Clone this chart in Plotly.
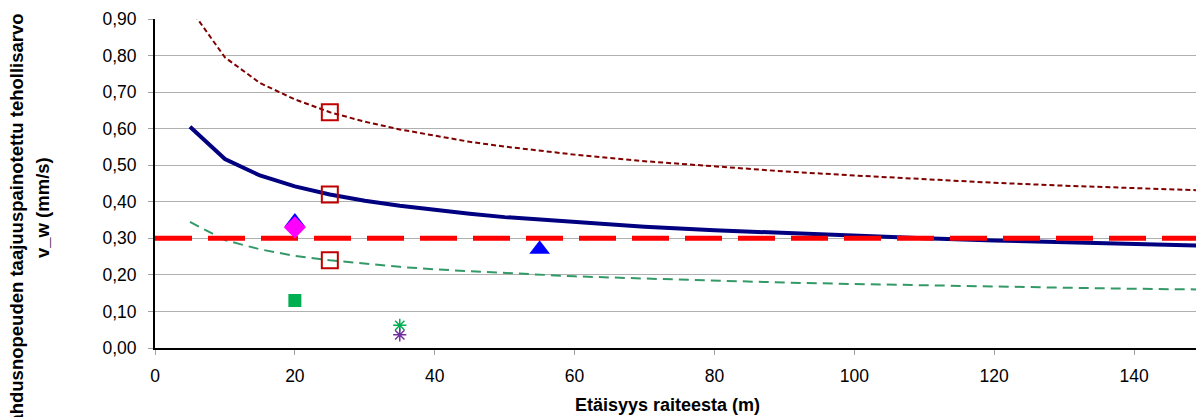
import plotly.graph_objects as go

# distances (m) for model curves
dist = [5, 10, 15, 20, 25, 30, 35, 40, 45, 50, 60, 70, 80, 90, 100, 110, 120, 130, 140, 150]
# model: mean (blue), upper (dark red dotted), lower (green dashed)
v_mean = [0.605, 0.517, 0.472, 0.442, 0.420, 0.403, 0.389, 0.377, 0.367, 0.358,
          0.344, 0.332, 0.322, 0.314, 0.307, 0.300, 0.294, 0.289, 0.284, 0.280]
v_upper = [0.929, 0.795, 0.725, 0.680, 0.645, 0.619, 0.598, 0.580, 0.564, 0.551,
           0.529, 0.511, 0.496, 0.483, 0.472, 0.461, 0.452, 0.444, 0.437, 0.431]
v_lower = [0.345, 0.295, 0.270, 0.252, 0.240, 0.230, 0.222, 0.215, 0.210, 0.204,
           0.196, 0.190, 0.184, 0.179, 0.175, 0.171, 0.168, 0.165, 0.162, 0.160]

# limit value
limit_x = [0, 150]
limit_y = [0.30, 0.30]

# measurements
sq_x = [25, 25, 25]
sq_y = [0.645, 0.420, 0.240]
tri_x = [20, 55]
tri_y = [0.345, 0.270]
dia_x = [20]
dia_y = [0.330]
gsq_x = [20]
gsq_y = [0.130]
gstar_x = [35]
gstar_y = [0.062]
pstar_x = [35]
pstar_y = [0.036]

x_ticks = [0, 20, 40, 60, 80, 100, 120, 140]
y_ticks = [0.0, 0.1, 0.2, 0.3, 0.4, 0.5, 0.6, 0.7, 0.8, 0.9]

FONT = "Liberation Sans, Arial, sans-serif"

# page body has an 8px margin: figure is drawn from (8, 8) on screen
OFF = 8
W, H = 1204 - OFF, 417 - OFF
PL, PT, PB_SCREEN = 155, 19, 348
L = PL - OFF
T = PT - OFF
B = H - (PB_SCREEN - OFF)
PW = W - L
PH = (PB_SCREEN - OFF) - T

fig = go.Figure()

fig.add_trace(go.Scatter(x=dist, y=v_lower, mode="lines",
                         line=dict(color="#339966", width=2, dash="10px,6px")))
fig.add_trace(go.Scatter(x=dist, y=v_upper, mode="lines",
                         line=dict(color="#800000", width=2, dash="5px,3px")))
fig.add_trace(go.Scatter(x=dist, y=v_mean, mode="lines",
                         line=dict(color="#000080", width=4)))
fig.add_trace(go.Scatter(x=limit_x, y=limit_y, mode="lines",
                         line=dict(color="#FF0000", width=5, dash="37px,16px")))

fig.add_trace(go.Scatter(x=sq_x, y=sq_y, mode="markers",
                         marker=dict(symbol="square-open", size=16, color="#C00000",
                                     line=dict(width=2, color="#C00000"))))
fig.add_trace(go.Scatter(x=tri_x, y=tri_y, mode="markers",
                         marker=dict(symbol="triangle-up", size=18, color="#0000FF",
                                     line=dict(width=0))))
fig.add_trace(go.Scatter(x=dia_x, y=dia_y, mode="markers",
                         marker=dict(symbol="diamond", size=17, color="#FF00FF",
                                     line=dict(width=0))))
fig.add_trace(go.Scatter(x=gsq_x, y=gsq_y, mode="markers",
                         marker=dict(symbol="square", size=13, color="#00B050",
                                     line=dict(width=0))))
fig.add_trace(go.Scatter(x=gstar_x, y=gstar_y, mode="markers",
                         marker=dict(symbol="asterisk-open", size=11, color="#00B050",
                                     line=dict(width=1.5, color="#00B050"))))
fig.add_trace(go.Scatter(x=pstar_x, y=pstar_y, mode="markers",
                         marker=dict(symbol="asterisk-open", size=11, color="#7030A0",
                                     line=dict(width=1.5, color="#7030A0"))))

fig.update_layout(
    width=W, height=H,
    margin=dict(l=L, r=0, t=T, b=B, pad=0),
    paper_bgcolor="white", plot_bgcolor="white",
    showlegend=False,
    separators=", ",
    font=dict(family=FONT, size=17.5, color="black"),
)
fig.update_xaxes(
    range=[0, 150], tickvals=x_ticks, ticktext=[str(v) for v in x_ticks],
    showgrid=False, zeroline=False,
    showline=True, linecolor="black", linewidth=2,
    ticks="outside", ticklen=5, tickcolor="#A0A0A0", ticklabelstandoff=6,
)
fig.update_yaxes(
    range=[0, 0.9], tickvals=y_ticks, tickformat=".2f",
    showgrid=True, gridcolor="#B0B0B0", gridwidth=1, zeroline=False,
    showline=True, linecolor="black", linewidth=2,
    ticks="outside", ticklen=5, tickcolor="#A0A0A0", ticklabelstandoff=8,
)


def px_x(sx):
    return (sx - PL) / PW


def px_y(sy):
    return (PB_SCREEN - sy) / PH


fig.add_annotation(text="<b>Etäisyys raiteesta (m)</b>", xref="paper", yref="paper",
                   x=px_x(667), y=px_y(416), xanchor="center", yanchor="bottom",
                   borderpad=0, showarrow=False, font=dict(family=FONT, size=18))
fig.add_annotation(text="<b>Heilahdusnopeuden taajuuspainotettu tehollisarvo</b>",
                   xref="paper", yref="paper", textangle=-90,
                   x=px_x(16), y=px_y(12), xanchor="center", yanchor="top",
                   showarrow=False, font=dict(family=FONT, size=18.5))
fig.add_annotation(text="<b>v_w (mm/s)</b>",
                   xref="paper", yref="paper", textangle=-90,
                   x=px_x(42), y=px_y(208), xanchor="center", yanchor="middle",
                   showarrow=False, font=dict(family=FONT, size=18.5))

fig.write_html("out.html")
